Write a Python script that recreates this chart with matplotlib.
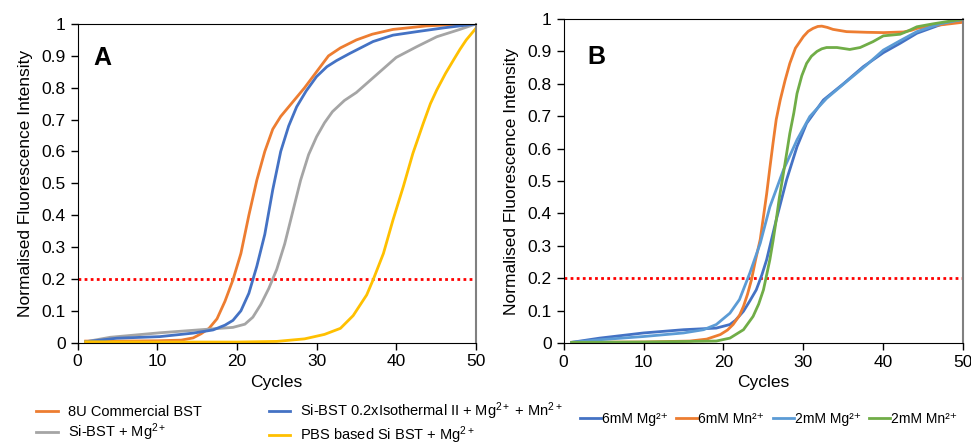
import numpy as np
import matplotlib
matplotlib.use("Agg")
import matplotlib.pyplot as plt

plt.rcParams['font.family'] = ['Liberation Sans', 'DejaVu Sans']
plt.rcParams['mathtext.fontset'] = 'custom'
plt.rcParams['mathtext.rm'] = 'Liberation Sans'
plt.rcParams['mathtext.it'] = 'Liberation Sans:italic'
plt.rcParams['mathtext.bf'] = 'Liberation Sans:bold'

# ---- Panel A data (cycle, normalised intensity) ----
a_orange_x = [1, 5, 10, 13, 14.5, 15.5, 16.5, 17.5, 18.5, 19.5, 20.5, 21.5, 22.5, 23.5, 24.5, 25.5, 27, 28.5, 30, 31.5, 33, 35, 37, 39.6, 43.8, 47, 50]
a_orange_y = [0.005, 0.005, 0.006, 0.008, 0.015, 0.028, 0.045, 0.075, 0.13, 0.197, 0.28, 0.4, 0.51, 0.6, 0.67, 0.71, 0.755, 0.8, 0.85, 0.9, 0.925, 0.95, 0.968, 0.983, 0.994, 0.998, 1.0]

a_blue_x = [1, 4.9, 10.3, 14.5, 17, 18.5, 19.5, 20.5, 21.5, 22.5, 23.5, 24.5, 25.5, 26.5, 27.5, 28.7, 30, 31.3, 32.5, 34.2, 37.1, 39.6, 42.6, 46, 50]
a_blue_y = [0.003, 0.014, 0.019, 0.03, 0.04, 0.055, 0.07, 0.1, 0.155, 0.24, 0.34, 0.48, 0.6, 0.68, 0.74, 0.79, 0.835, 0.866, 0.885, 0.908, 0.945, 0.965, 0.976, 0.988, 1.0]

a_gray_x = [1, 4.1, 10.3, 16.2, 19.5, 21, 22, 23, 24, 25, 26, 27, 28, 29, 30, 31, 32, 33.5, 35, 37.5, 40, 42.6, 45.1, 48, 50]
a_gray_y = [0.003, 0.017, 0.031, 0.042, 0.048, 0.058, 0.08, 0.12, 0.17, 0.23, 0.31, 0.41, 0.51, 0.59, 0.646, 0.69, 0.725, 0.76, 0.785, 0.84, 0.895, 0.929, 0.96, 0.983, 1.0]

a_yellow_x = [1, 10, 20, 25, 28.5, 31, 33, 34.6, 36.3, 37.1, 38.4, 39.6, 40.9, 42.1, 43.4, 44.3, 45.1, 46.2, 47.2, 48, 48.8, 50]
a_yellow_y = [0.003, 0.002, 0.002, 0.004, 0.012, 0.026, 0.045, 0.085, 0.15, 0.197, 0.28, 0.385, 0.49, 0.594, 0.688, 0.75, 0.793, 0.845, 0.887, 0.92, 0.95, 0.986]

# ---- Panel B data ----
b_mg6_x = [1, 4.5, 10, 15, 19.1, 20.8, 21.5, 22.5, 23.3, 24.1, 24.8, 25.4, 26.6, 27.9, 29.2, 30.4, 32.5, 35, 37.5, 40, 42.1, 44.2, 47.1, 50]
b_mg6_y = [0.002, 0.015, 0.031, 0.041, 0.046, 0.057, 0.07, 0.098, 0.13, 0.164, 0.21, 0.257, 0.38, 0.504, 0.606, 0.678, 0.75, 0.8, 0.853, 0.896, 0.925, 0.956, 0.982, 0.997]

b_mn6_x = [1, 10, 15.8, 17.9, 19.6, 20.5, 21.2, 22, 22.5, 23, 23.5, 24, 24.6, 25, 25.4, 25.8, 26.2, 26.6, 27.1, 27.7, 28.3, 29, 30, 30.6, 31.2, 31.8, 32.3, 33, 33.7, 35.4, 37.9, 40, 42.5, 43.5, 44.2, 46.2, 50]
b_mn6_y = [0.002, 0.003, 0.006, 0.012, 0.026, 0.04, 0.057, 0.085, 0.113, 0.15, 0.195, 0.255, 0.32, 0.39, 0.46, 0.54, 0.617, 0.69, 0.75, 0.81, 0.863, 0.91, 0.946, 0.962, 0.971, 0.977, 0.978, 0.974, 0.968, 0.961, 0.959, 0.958, 0.96, 0.965, 0.971, 0.979, 0.99]

b_mg2_x = [1, 4.5, 10, 15, 17.5, 19.1, 20.8, 22, 23.3, 24.6, 25.8, 27.5, 29.2, 30.8, 32.9, 35.4, 37.9, 40, 42.1, 44.2, 47.1, 50]
b_mg2_y = [0.002, 0.01, 0.02, 0.031, 0.041, 0.057, 0.092, 0.134, 0.216, 0.308, 0.42, 0.534, 0.627, 0.699, 0.755, 0.807, 0.858, 0.904, 0.933, 0.961, 0.985, 0.999]

b_mn2_x = [1, 10, 19.1, 20.8, 22.5, 23.7, 24.4, 25, 25.4, 25.8, 26.2, 26.6, 27, 27.5, 27.9, 28.3, 28.8, 29.2, 29.8, 30.4, 31, 31.7, 32.3, 32.9, 34.2, 35.8, 37.1, 38.7, 40, 42.1, 43, 44.2, 46.2, 50]
b_mn2_y = [0.002, 0.003, 0.006, 0.015, 0.041, 0.082, 0.12, 0.164, 0.21, 0.257, 0.315, 0.38, 0.45, 0.524, 0.585, 0.647, 0.71, 0.77, 0.825, 0.863, 0.885, 0.9, 0.908, 0.912, 0.912, 0.906, 0.912, 0.93, 0.948, 0.953, 0.962, 0.976, 0.985, 1.0]

threshold = 0.2
x_ticks = [0, 10, 20, 30, 40, 50]
y_ticks = [0, 0.1, 0.2, 0.3, 0.4, 0.5, 0.6, 0.7, 0.8, 0.9, 1]
y_labels = ['0', '0.1', '0.2', '0.3', '0.4', '0.5', '0.6', '0.7', '0.8', '0.9', '1']

ORANGE = '#ED7D31'
BLUE = '#4472C4'
GRAY = '#A5A5A5'
YELLOW = '#FFC000'
LBLUE = '#5B9BD5'
GREEN = '#70AD47'


def style_axes(ax):
    ax.set_xlim(0, 50)
    ax.set_ylim(0, 1)
    ax.set_xticks(x_ticks)
    ax.set_yticks(y_ticks)
    ax.set_yticklabels(y_labels)
    ax.tick_params(direction='out', length=5, width=1, labelsize=12.5, color='black')
    ax.spines['right'].set_color('#808080')
    ax.spines['right'].set_linewidth(1.5)
    ax.axhline(threshold, color='red', linestyle=(0, (1, 1.2)), linewidth=2, zorder=1)
    ax.set_xlabel('Cycles', fontsize=12.5, labelpad=4)
    ax.set_ylabel('Normalised Fluorescence Intensity', fontsize=12.5, labelpad=6)


fig = plt.figure(figsize=(9.71, 4.42), dpi=100)
ax1 = fig.add_axes([0.080, 0.2247, 0.410, 0.721])
ax2 = fig.add_axes([0.5805, 0.224, 0.4115, 0.733])

lw = 2
l1, = ax1.plot(a_orange_x, a_orange_y, color=ORANGE, lw=lw, label='8U Commercial BST')
l2, = ax1.plot(a_gray_x, a_gray_y, color=GRAY, lw=lw, label='Si-BST + Mg$^{2+}$')
l3, = ax1.plot(a_blue_x, a_blue_y, color=BLUE, lw=lw, label='Si-BST 0.2xIsothermal II + Mg$^{2+}$ + Mn$^{2+}$')
l4, = ax1.plot(a_yellow_x, a_yellow_y, color=YELLOW, lw=lw, label='PBS based Si BST + Mg$^{2+}$')
style_axes(ax1)
ax1.text(0.04, 0.93, 'A', transform=ax1.transAxes, fontsize=18, fontweight='bold', va='top')

ax2.plot(b_mg6_x, b_mg6_y, color=BLUE, lw=lw, label='6mM Mg²⁺')
ax2.plot(b_mn6_x, b_mn6_y, color=ORANGE, lw=lw, label='6mM Mn²⁺')
ax2.plot(b_mg2_x, b_mg2_y, color=LBLUE, lw=lw, label='2mM Mg²⁺')
ax2.plot(b_mn2_x, b_mn2_y, color=GREEN, lw=lw, label='2mM Mn²⁺')
style_axes(ax2)
ax2.text(0.06, 0.92, 'B', transform=ax2.transAxes, fontsize=18, fontweight='bold', va='top')

fig.legend(handles=[l1, l2, l3, l4], ncol=2, loc='upper left', bbox_to_anchor=(0.030, 0.111),
           frameon=False, fontsize=10.5, handlelength=1.45, handletextpad=0.7,
           columnspacing=4.6, labelspacing=0.15, borderpad=0)
ax2.legend(ncol=4, loc='upper left', bbox_to_anchor=(0.590, 0.084), bbox_transform=fig.transFigure,
           frameon=False, fontsize=10, handlelength=1.5, handletextpad=0.1,
           columnspacing=0.6, borderpad=0)

fig.savefig('out.png', dpi=100)
